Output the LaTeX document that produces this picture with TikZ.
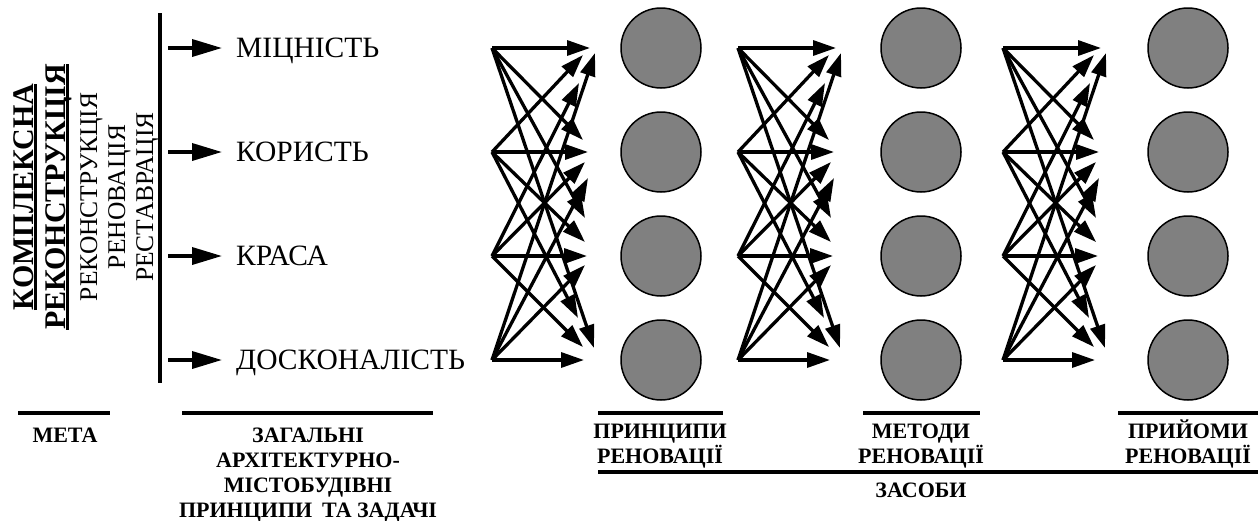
\documentclass[tikz,border=0pt]{standalone}
\usepackage{fontspec}
\setmainfont{Liberation Serif}
\usetikzlibrary{arrows.meta}
\definecolor{circgray}{RGB}{128,128,128}
\newsavebox\ulbox
\newcommand\myul[1]{\sbox\ulbox{#1}\rlap{\rule[-4pt]{\wd\ulbox}{2.6pt}}\usebox\ulbox}
\begin{document}
\begin{tikzpicture}[x=1pt,y=-1pt,
  grp/.style={line width=3.3pt, -{Triangle[length=23pt,width=15pt]}},
  leftarr/.style={line width=3.6pt, -{Triangle[length=30pt,width=17pt]}},
  circ/.style={circle, draw=black, line width=1.5pt, fill=circgray, minimum size=80pt, inner sep=0pt},
  hrule/.style={line width=3.5pt},
  lbl/.style={font=\fontsize{22}{25}\selectfont\bfseries, inner sep=0pt, anchor=base},
  goal/.style={font=\fontsize{29.5}{30}\selectfont, inner sep=0pt, anchor=base west},
  rotb/.style={rotate=90, anchor=base, inner sep=0pt, font=\fontsize{30}{30}\selectfont\bfseries},
  rotr/.style={rotate=90, anchor=base, inner sep=0pt, font=\fontsize{25.5}{30}\selectfont}]
\useasboundingbox (0,0) rectangle (1258,520);
\fill[white] (0,0) rectangle (1258,520);

% left rotated titles
\node[rotb] (k1) at (33,197) {\myul{КОМПЛЕКСНА}};
\node[rotb] (k2) at (65,197) {\myul{РЕКОНСТРУКЦІЯ}};
\node[rotr] (k3) at (97,197) {РЕКОНСТРУКЦІЯ};
\node[rotr] (k4) at (125,197) {РЕНОВАЦІЯ};
\node[rotr] (k5) at (153,197) {РЕСТАВРАЦІЯ};

% vertical bar
\coordinate (vtop) at (160,13);
\coordinate (vbot) at (160,383);
\draw[line width=3.8pt] (vtop) -- (vbot);

% goals
\foreach \i/\y/\t in {1/48/МІЦНІСТЬ, 2/152/КОРИСТЬ, 3/256/КРАСА, 4/360/ДОСКОНАЛІСТЬ} {
  \coordinate (la\i) at (168,\y);
  \coordinate (lb\i) at (222,\y);
  \draw[leftarr] (la\i) -- (lb\i);
  \node[goal] (goal\i) at (236,\y+9.6) {\t};
}

% groups of arrows and circles
\foreach \g/\sx/\cx in {1/492/661, 2/738/921, 3/1003/1188} {
  \foreach \i/\y in {1/48,2/152,3/256,4/360} {
    \coordinate (s\g-\i) at (\sx,\y);
    \node[circ] (c\g-\i) at (\cx,\y) {};
  }
  \foreach \i/\j/\dx/\ty in {
      1/1/98/48, 2/1/91/55, 3/1/87/83, 4/1/103/53,
      1/2/91/140, 2/2/96/152, 3/2/93/162, 4/2/96/178,
      1/3/93/218, 2/3/93/242, 3/3/95/256, 4/3/93/265,
      1/4/102/348, 2/4/86/318, 3/4/91/347, 4/4/92/360} {
    \coordinate (t\g-\i-\j) at (\sx+\dx,\ty);
    \draw[grp] (s\g-\i) -- (t\g-\i-\j);
  }
}

% bottom labels
\draw[hrule] (18,413) -- (110,413);
\node[lbl] (meta) at (65,442) {МЕТА};
\draw[hrule] (182,413) -- (433,413);
\node[lbl] (z1) at (308,442) {ЗАГАЛЬНІ};
\node[lbl] (z2) at (308,467) {АРХІТЕКТУРНО-};
\node[lbl] (z3) at (308,492) {МІСТОБУДІВНІ};
\node[lbl] (z4) at (308,517) {ПРИНЦИПИ\hspace{0.45em}ТА ЗАДАЧІ};

\draw[hrule] (598,413) -- (723,413);
\node[lbl] (p1) at (660,438) {ПРИНЦИПИ};
\node[lbl] (p2) at (660,463) {РЕНОВАЦІЇ};
\draw[hrule] (863,413) -- (980,413);
\node[lbl] (m1) at (921,438) {МЕТОДИ};
\node[lbl] (m2) at (921,463) {РЕНОВАЦІЇ};
\draw[hrule] (1118,413) -- (1258,413);
\node[lbl] (r1) at (1188,438) {ПРИЙОМИ};
\node[lbl] (r2) at (1188,463) {РЕНОВАЦІЇ};
\draw[hrule] (598,472) -- (1258,472);
\node[lbl] (zas) at (921,497) {ЗАСОБИ};
\end{tikzpicture}
\end{document}
